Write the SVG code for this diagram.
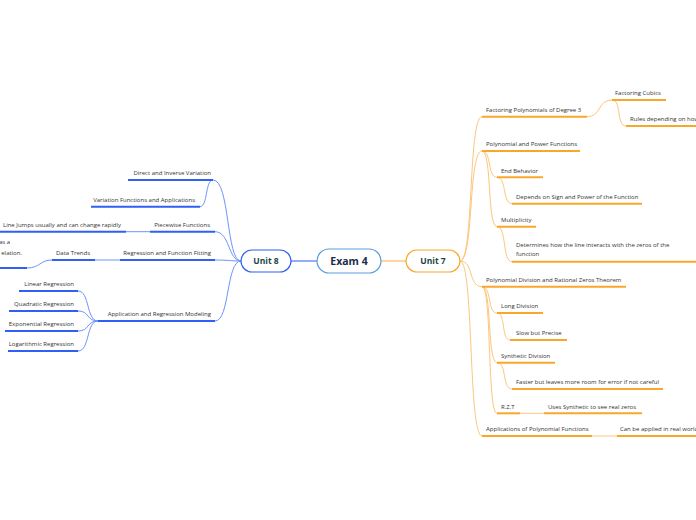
<svg xmlns="http://www.w3.org/2000/svg" width="696" height="520" viewBox="0 0 696 520">
<style>
text{font-family:"Open Sans","Noto Sans","DejaVu Sans",sans-serif;font-size:6px;fill:#333}
.ul-b{stroke:#2f5ff5;stroke-width:2;fill:none}
.ul-o{stroke:#f9a72b;stroke-width:2;fill:none}
.c-b{stroke:#6e93fb;stroke-width:1;fill:none}
.c-o{stroke:#fcc77c;stroke-width:1;fill:none}
.unit{font-size:8.5px;font-weight:bold;fill:#1c4645}
.end{text-anchor:end}
</style>
<rect width="696" height="520" fill="#ffffff"/>
<g id="connectors">
<line x1="291" y1="261" x2="317" y2="261" stroke="#6e93fb" stroke-width="1.5"/>
<line x1="381" y1="261" x2="406" y2="261" stroke="#fcc77c" stroke-width="1.5"/>
<!-- left -->
<path class="c-b" d="M241,261 C226,261 230,180 213,180"/>
<path class="c-b" d="M241,261 C228,261 230,231.7 215,231.7"/>
<path class="c-b" d="M241,261 C230,261 228,260 215,260"/>
<path class="c-b" d="M241,261 C226,261 230,321 215,321"/>
<path class="c-b" d="M213,180 C205,180 208,206.7 200,206.7"/>
<line class="c-b" x1="150" y1="231.7" x2="126" y2="231.7"/>
<line class="c-b" x1="120" y1="260" x2="95" y2="260"/>
<path class="c-b" d="M52,260 C40,260 40,268 27,268"/>
<path class="c-b" d="M98,321 C86,321 90,291 78,291"/>
<path class="c-b" d="M98,321 C86,321 90,311 78,311"/>
<path class="c-b" d="M98,321 C86,321 90,331 78,331"/>
<path class="c-b" d="M98,321 C86,321 90,351 78,351"/>
<!-- right -->
<path class="c-o" d="M460,261 C474,261 468,116.7 482,116.7"/>
<path class="c-o" d="M460,261 C474,261 468,151 482,151"/>
<path class="c-o" d="M460,261 C474,261 468,286.7 482,286.7"/>
<path class="c-o" d="M460,261 C474,261 468,436 482,436"/>
<path class="c-o" d="M587,116.7 C602,116.7 597,100 612,100"/>
<path class="c-o" d="M612,100 C622,100 616,126 626,126"/>
<path class="c-o" d="M482,151 C492,151 487,177.3 497,177.3"/>
<path class="c-o" d="M482,151 C492,151 487,226.7 497,226.7"/>
<path class="c-o" d="M497,177.3 C507,177.3 502,203.7 512,203.7"/>
<path class="c-o" d="M497,226.7 C507,226.7 502,261.7 512,261.7"/>
<path class="c-o" d="M482,286.7 C492,286.7 487,313 497,313"/>
<path class="c-o" d="M482,286.7 C492,286.7 487,362.7 497,362.7"/>
<path class="c-o" d="M482,286.7 C492,286.7 487,413.3 497,413.3"/>
<path class="c-o" d="M497,313 C506,313 501,340 510,340"/>
<path class="c-o" d="M497,362.7 C507,362.7 502,389 512,389"/>
<line class="c-o" x1="520" y1="413.3" x2="544" y2="413.3"/>
<line class="c-o" x1="592" y1="436" x2="617" y2="436"/>
</g>
<g id="exam4">
<rect x="317" y="249" width="64" height="24" rx="12" fill="#fff" stroke="#5aa0dc" stroke-width="1.2"/>
<text x="349" y="265" text-anchor="middle" style="font-size:10.5px;font-weight:bold;fill:#1b2b4b">Exam 4</text>
</g>
<g id="unit8">
<rect x="241" y="250" width="50" height="22" rx="11" fill="#fff" stroke="#2f5ff5" stroke-width="1.2"/>
<text class="unit" x="266" y="264" text-anchor="middle">Unit 8</text>
</g>
<g id="unit7">
<rect x="406" y="250" width="54" height="22" rx="11" fill="#fff" stroke="#f9a72b" stroke-width="1.2"/>
<text class="unit" x="433" y="264" text-anchor="middle">Unit 7</text>
</g>
<!-- left nodes -->
<g id="direct-inverse"><line class="ul-b" x1="128" y1="180" x2="213" y2="180"/><text class="end" x="211" y="175">Direct and Inverse Variation</text></g>
<g id="variation-functions"><line class="ul-b" x1="91" y1="206.7" x2="200" y2="206.7"/><text class="end" x="195" y="201.5">Variation Functions and Applications</text></g>
<g id="piecewise"><line class="ul-b" x1="150" y1="231.7" x2="215" y2="231.7"/><text class="end" x="210" y="226.5">Piecewise Functions</text></g>
<g id="line-jumps"><line class="ul-b" x1="0" y1="231.7" x2="126" y2="231.7"/><text class="end" x="121" y="226.5">Line Jumps usually and can change rapidly</text></g>
<g id="regression-fitting"><line class="ul-b" x1="120" y1="260" x2="215" y2="260"/><text class="end" x="211" y="255">Regression and Function Fitting</text></g>
<g id="data-trends"><line class="ul-b" x1="52" y1="260" x2="95" y2="260"/><text class="end" x="90" y="255">Data Trends</text></g>
<g id="data-trends-note"><line class="ul-b" x1="0" y1="268" x2="27" y2="268"/><text class="end" x="10" y="244">as a</text><text class="end" x="22" y="255">elation.</text></g>
<g id="application-modeling"><line class="ul-b" x1="98" y1="321" x2="215" y2="321"/><text class="end" x="211" y="316">Application and Regression Modeling</text></g>
<g id="linear"><line class="ul-b" x1="19" y1="291" x2="78" y2="291"/><text class="end" x="74" y="286">Linear Regression</text></g>
<g id="quadratic"><line class="ul-b" x1="9" y1="311" x2="78" y2="311"/><text class="end" x="74" y="306">Quadratic Regression</text></g>
<g id="exponential"><line class="ul-b" x1="5" y1="331" x2="78" y2="331"/><text class="end" x="74" y="326">Exponential Regression</text></g>
<g id="logarithmic"><line class="ul-b" x1="8" y1="351" x2="78" y2="351"/><text class="end" x="74" y="346">Logarithmic Regression</text></g>
<!-- right nodes -->
<g id="factoring-deg3"><line class="ul-o" x1="482" y1="116.7" x2="587" y2="116.7"/><text x="486" y="111.5">Factoring Polynomials of Degree 3</text></g>
<g id="factoring-cubics"><line class="ul-o" x1="612" y1="100" x2="666" y2="100"/><text x="615" y="95">Factoring Cubics</text></g>
<g id="rules"><line class="ul-o" x1="626" y1="126" x2="696" y2="126"/><text x="630" y="121">Rules depending on how</text></g>
<g id="poly-power"><line class="ul-o" x1="482" y1="151" x2="580" y2="151"/><text x="486" y="146">Polynomial and Power Functions</text></g>
<g id="end-behavior"><line class="ul-o" x1="497" y1="177.3" x2="543" y2="177.3"/><text x="501" y="172.5">End Behavior</text></g>
<g id="depends"><line class="ul-o" x1="512" y1="203.7" x2="642" y2="203.7"/><text x="516" y="198.5">Depends on Sign and Power of the Function</text></g>
<g id="multiplicity"><line class="ul-o" x1="497" y1="226.7" x2="536" y2="226.7"/><text x="501" y="221.5">Multiplicity</text></g>
<g id="determines"><line class="ul-o" x1="512" y1="261.7" x2="696" y2="261.7"/><text x="516" y="246.5">Determines how the line interacts with the zeros of the</text><text x="516" y="256">function</text></g>
<g id="poly-division"><line class="ul-o" x1="482" y1="286.7" x2="626" y2="286.7"/><text x="486" y="281.5">Polynomial Division and Rational Zeros Theorem</text></g>
<g id="long-division"><line class="ul-o" x1="497" y1="313" x2="543" y2="313"/><text x="501" y="308">Long Division</text></g>
<g id="slow"><line class="ul-o" x1="510" y1="340" x2="567" y2="340"/><text x="516" y="335">Slow but Precise</text></g>
<g id="synthetic"><line class="ul-o" x1="497" y1="362.7" x2="555" y2="362.7"/><text x="501" y="357.5">Synthetic Division</text></g>
<g id="faster"><line class="ul-o" x1="512" y1="389" x2="663" y2="389"/><text x="516" y="384">Faster but leaves more room for error if not careful</text></g>
<g id="rzt"><line class="ul-o" x1="497" y1="413.3" x2="520" y2="413.3"/><text x="501" y="408.5">R.Z.T</text></g>
<g id="uses-synthetic"><line class="ul-o" x1="544" y1="413.3" x2="642" y2="413.3"/><text x="548" y="408.5">Uses Synthetic to see real zeros</text></g>
<g id="applications"><line class="ul-o" x1="482" y1="436" x2="592" y2="436"/><text x="486" y="431">Applications of Polynomial Functions</text></g>
<g id="real-world"><line class="ul-o" x1="617" y1="436" x2="696" y2="436"/><text x="620" y="431">Can be applied in real world</text></g>
</svg>
